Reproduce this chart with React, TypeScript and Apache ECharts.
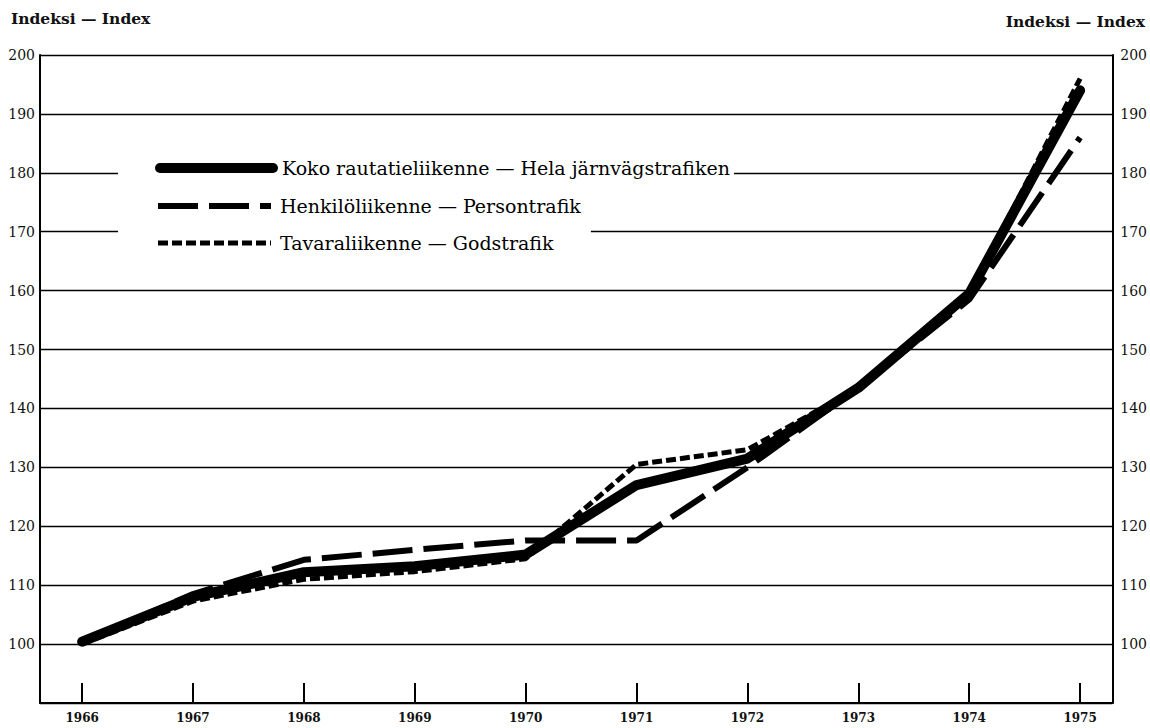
import React, { useEffect, useRef } from "react";
import * as echarts from "echarts";

const years = [1966, 1967, 1968, 1969, 1970, 1971, 1972, 1973, 1974, 1975];
const total = [100.4, 108, 112.2, 113.2, 115.2, 127, 131.5, 143.5, 159.5, 194];
const personal = [100.3, 108.5, 114.3, 116, 117.6, 117.6, 130, 143.5, 158.5, 186];
const goods = [100, 107.3, 111, 112.3, 114.5, 130.5, 133, 143.5, 159.5, 196];

const nameTotal = "Koko rautatieliikenne — Hela järnvägstrafiken";
const namePersonal = "Henkilöliikenne — Persontrafik";
const nameGoods = "Tavaraliikenne — Godstrafik";
const axisTitle = "Indeksi — Index";

const FONT = "DejaVu Serif";

export default function App() {
  const ref = useRef<HTMLDivElement>(null);
  useEffect(() => {
    const chart = echarts.init(ref.current!, null, { renderer: "svg" });
    const pair = (vals: number[]) => years.map((y, i) => [y, vals[i]]);
    const yLabel = { fontFamily: FONT, fontSize: 14, color: "#111" };
    const legendText = {
      fontFamily: FONT,
      fontSize: 19,
      lineHeight: 20,
      color: "#000",
      padding: [0, 0, 0, 4],
    };
    chart.setOption({
      animation: false,
      backgroundColor: "#fff",
      grid: { left: 40, right: 37, top: 55, bottom: 25 },
      xAxis: {
        type: "value",
        min: 1965.62,
        max: 1975.29,
        axisLine: { show: true, lineStyle: { color: "#000", width: 2 } },
        axisTick: {
          show: true,
          inside: true,
          length: 20,
          customValues: years,
          lineStyle: { color: "#000", width: 2 },
        },
        axisLabel: {
          customValues: years,
          formatter: (v: number) => String(v),
          fontFamily: FONT,
          fontSize: 12,
          fontWeight: "bold",
          color: "#111",
          margin: 9,
        },
        splitLine: { show: false },
      },
      yAxis: [
        {
          type: "value",
          min: 90,
          max: 200,
          interval: 10,
          axisLine: { show: true, lineStyle: { color: "#000", width: 2 } },
          axisTick: { show: false },
          axisLabel: {
            ...yLabel,
            margin: 5,
            formatter: (v: number) => (v >= 100 ? String(v) : ""),
          },
          splitLine: {
            show: true,
            lineStyle: { color: "#000", width: 1.3 },
          },
        },
        {
          type: "value",
          min: 90,
          max: 200,
          interval: 10,
          position: "right",
          axisLine: { show: true, lineStyle: { color: "#000", width: 2 } },
          axisTick: { show: false },
          axisLabel: {
            ...yLabel,
            margin: 8,
            formatter: (v: number) => (v >= 100 ? String(v) : ""),
          },
          splitLine: { show: false },
        },
      ],
      legend: [
        {
          data: [nameTotal],
          left: 118,
          top: 155,
          orient: "vertical",
          backgroundColor: "#fff",
          padding: [3, 4, 3, 37],
          itemWidth: 113,
          itemHeight: 14,
          selectedMode: false,
          textStyle: legendText,
          lineStyle: { width: 10, cap: "round" },
          itemStyle: { opacity: 0 },
          z: 5,
        },
        {
          data: [namePersonal, nameGoods],
          left: 118,
          top: 193,
          orient: "vertical",
          backgroundColor: "#fff",
          padding: [3, 10, 3, 37],
          itemWidth: 113,
          itemHeight: 14,
          itemGap: 17,
          selectedMode: false,
          textStyle: legendText,
          lineStyle: { width: "inherit" },
          itemStyle: { opacity: 0 },
          z: 5,
        },
      ],
      graphic: [
        {
          type: "text",
          left: 11,
          top: 10,
          style: { text: axisTitle, font: `bold 15.5px '${FONT}'`, fill: "#111" },
        },
        {
          type: "text",
          right: 5,
          top: 13,
          style: { text: axisTitle, font: `bold 15.5px '${FONT}'`, fill: "#111" },
        },
      ],
      series: [
        {
          name: namePersonal,
          type: "line",
          data: pair(personal),
          symbol: "none",
          lineStyle: { color: "#000", width: 6, type: [40, 11], cap: "butt" },
          itemStyle: { color: "#000" },
          z: 3,
        },
        {
          name: nameGoods,
          type: "line",
          data: pair(goods),
          symbol: "none",
          lineStyle: { color: "#000", width: 5, type: [10, 4], cap: "butt" },
          itemStyle: { color: "#000" },
          z: 3,
        },
        {
          name: nameTotal,
          type: "line",
          data: pair(total),
          symbol: "none",
          lineStyle: { color: "#000", width: 10, cap: "round", join: "round" },
          itemStyle: { color: "#000" },
          z: 4,
        },
      ],
    });
    return () => chart.dispose();
  }, []);
  return (
    <div
      ref={ref}
      style={{ position: "fixed", left: 0, top: 0, width: 1150, height: 728 }}
    />
  );
}
